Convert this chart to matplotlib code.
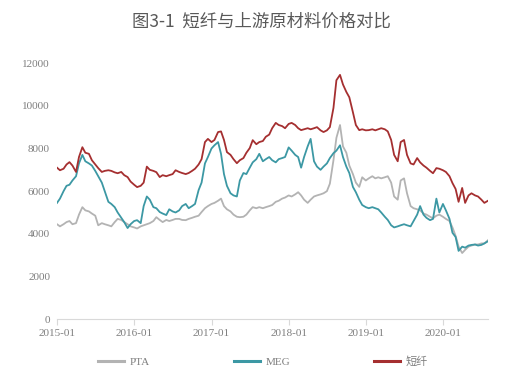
import numpy as np
import pandas as pd
import matplotlib
matplotlib.use("Agg")
import matplotlib.pyplot as plt
import matplotlib.dates as mdates

# semi-monthly readings, 2015-01-01 .. 2020-08-01
dates = pd.date_range("2015-01-01", periods=135, freq="SMS")

pta = [4450, 4350, 4450, 4550, 4600, 4450, 4500, 4900, 5250, 5100,
       5050, 4950, 4850, 4400, 4500, 4450, 4400, 4350, 4550, 4700,
       4650, 4550, 4450, 4350, 4300, 4250, 4350, 4400, 4450, 4500,
       4600, 4780, 4650, 4550, 4650, 4600, 4650, 4700, 4700, 4650,
       4640, 4700, 4750, 4800, 4850, 5020, 5200, 5300, 5400, 5450,
       5550, 5650, 5300, 5150, 5050, 4900, 4800, 4780, 4800, 4900,
       5100, 5250, 5200, 5250, 5200, 5250, 5300, 5350, 5500, 5550,
       5650, 5700, 5800, 5750, 5850, 5950, 5800, 5600, 5450, 5600,
       5750, 5800, 5850, 5900, 6000, 6350, 7450, 8500, 9100, 8100,
       7800, 7200, 6800, 6400, 6200, 6650, 6500, 6600, 6700, 6600,
       6650, 6600, 6650, 6700, 6400, 5750, 5600, 6500, 6600, 5900,
       5300, 5200, 5150, 5100, 4950, 4900, 4800, 4730, 4850, 4900,
       4800, 4700, 4600, 4300, 3900, 3400, 3100, 3250, 3400, 3450,
       3500, 3500, 3550, 3550, 3700]

meg = [5450, 5650, 6000, 6250, 6300, 6500, 6700, 7300, 7700, 7400,
       7300, 7200, 6950, 6700, 6400, 6000, 5500, 5400, 5250, 5000,
       4750, 4550, 4270, 4450, 4600, 4640, 4500, 5300, 5750, 5600,
       5250, 5200, 5020, 4950, 4880, 5150, 5050, 5000, 5100, 5300,
       5400, 5200, 5300, 5400, 6050, 6400, 7300, 7600, 8000, 8150,
       8300, 7750, 6800, 6250, 5900, 5800, 5750, 6500, 6850, 6800,
       7100, 7350, 7500, 7750, 7400, 7500, 7600, 7450, 7350, 7500,
       7550, 7600, 8050, 7900, 7700, 7600, 7100, 7600, 8100, 8450,
       7400, 7150, 7000, 7150, 7300, 7550, 7780, 7900, 8150, 7600,
       7150, 6850, 6200, 5950, 5600, 5350, 5250, 5200, 5250, 5200,
       5150, 5000, 4800, 4650, 4400, 4300, 4350, 4400, 4450, 4400,
       4350, 4600, 4900, 5300, 4900, 4750, 4640, 4700, 5650, 5000,
       5400, 5100, 4700, 4050, 3850, 3200, 3400, 3350, 3450, 3480,
       3500, 3450, 3480, 3550, 3650]

psf = [7100, 6980, 7050, 7250, 7360, 7200, 6900, 7600, 8060, 7800,
       7750, 7450, 7250, 7080, 6900, 6950, 6980, 6950, 6880, 6840,
       6900, 6750, 6660, 6450, 6300, 6190, 6250, 6400, 7150, 7000,
       6950, 6890, 6660, 6750, 6700, 6750, 6800, 6980, 6900, 6850,
       6800, 6850, 6950, 7050, 7250, 7500, 8300, 8450, 8300, 8400,
       8770, 8800, 8400, 7830, 7700, 7500, 7310, 7450, 7550, 7800,
       8020, 8390, 8200, 8300, 8350, 8550, 8650, 8950, 9200, 9100,
       9050, 8950, 9150, 9200, 9100, 8950, 8860, 8900, 8950, 8900,
       8950, 9000, 8850, 8770, 8850, 9000, 9900, 11200, 11450, 11000,
       10650, 10400, 9700, 9100, 8860, 8900, 8850, 8860, 8900, 8850,
       8900, 8950, 8900, 8800, 8400, 7700, 7400, 8300, 8400, 7700,
       7300, 7250, 7550, 7350, 7200, 7100, 6950, 6840, 7080, 7050,
       6980, 6900, 6700, 6380, 6100, 5500, 6150, 5450, 5800, 5900,
       5800, 5750, 5600, 5450, 5550]

series_names = ["PTA", "MEG", "短纤"]
series_colors = ["#B3B3B3", "#3C98A4", "#A52F30"]

fig = plt.figure(figsize=(5.23, 3.85), dpi=100)
ax = fig.add_axes([0.109, 0.171, 0.824, 0.665])

for vals, name, col in zip([pta, meg, psf], series_names, series_colors):
    ax.plot(dates, vals, color=col, lw=1.3, label=name)

ax.set_xlim(pd.Timestamp("2015-01-01"), pd.Timestamp("2020-08-01"))
ax.set_ylim(0, 12000)
ax.set_yticks(np.arange(0, 12001, 2000))
ax.xaxis.set_major_locator(mdates.YearLocator())
ax.xaxis.set_major_formatter(mdates.DateFormatter("%Y-%m"))

for s in ["top", "right", "left"]:
    ax.spines[s].set_visible(False)
ax.spines["bottom"].set_color("#D9D9D9")
ax.tick_params(axis="y", length=0, pad=5)
ax.tick_params(axis="x", length=4, color="#D9D9D9", pad=3)
for lab in ax.get_xticklabels() + ax.get_yticklabels():
    lab.set_family(["Liberation Serif", "Noto Sans CJK SC"])
    lab.set_fontsize(8)
    lab.set_color("#7F7F7F")

fig.text(0.5, 0.943, "图3-1  短纤与上游原材料价格对比", ha="center", va="center",
         fontsize=12.5, color="#595959", family=["Noto Sans CJK SC", "DejaVu Sans"])

leg = fig.legend(loc="center", bbox_to_anchor=(0.503, 0.06), ncol=3, frameon=False,
                 handlelength=2.3, columnspacing=7.6, handletextpad=0.5,
                 prop={"family": ["Liberation Serif", "Noto Sans CJK SC"], "size": 8})
for t in leg.get_texts():
    t.set_color("#7F7F7F")
for h in leg.get_lines():
    h.set_linewidth(2.2)

fig.savefig("out.png", dpi=100)
